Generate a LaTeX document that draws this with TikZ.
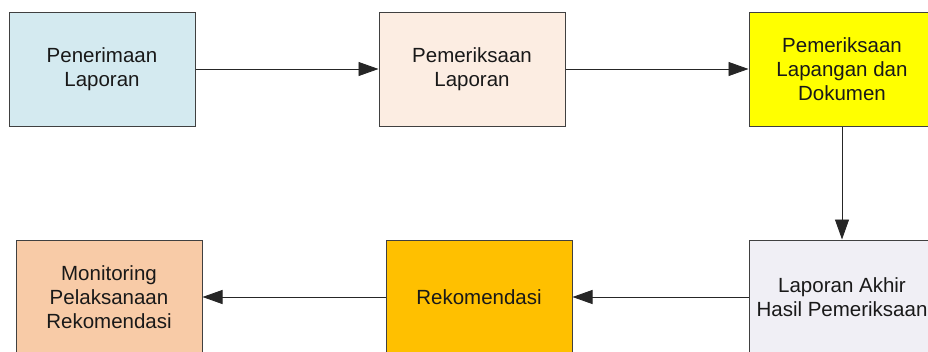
\documentclass[tikz,border=0pt]{standalone}
\usepackage{fontspec}
\setmainfont{Liberation Sans}
\usetikzlibrary{arrows.meta}
\definecolor{bline}{HTML}{404040}
\definecolor{cA}{HTML}{D4EAF0}
\definecolor{cB}{HTML}{FCEDE2}
\definecolor{cC}{HTML}{FFFF00}
\definecolor{cD}{HTML}{F0EFF5}
\definecolor{cE}{HTML}{FFC000}
\definecolor{cF}{HTML}{F8CBA7}
\tikzset{
  procbox/.style={draw=bline, line width=1pt, minimum width=186pt, minimum height=114pt,
    inner sep=0pt, align=center, text=black!90, font=\fontsize{20.5}{24}\selectfont},
  flow/.style={draw=black!85, line width=0.9pt, -{Triangle[length=20pt,width=14pt]}}
}
\begin{document}
\begin{tikzpicture}[x=1pt,y=-1pt]
\useasboundingbox (0,0) rectangle (928,351);
\clip (0,0) rectangle (928,351);
\node[procbox, fill=cA] (a) at (102,69) {Penerimaan\\Laporan};
\node[procbox, fill=cB] (b) at (472,69) {Pemeriksaan\\Laporan};
\node[procbox, fill=cC] (c) at (842,69) {Pemeriksaan\\Lapangan dan\\Dokumen};
\node[procbox, fill=cD] (d) at (842,297) {Laporan Akhir\\Hasil Pemeriksaan};
\node[procbox, fill=cE] (e) at (479,297) {Rekomendasi};
\node[procbox, fill=cF] (f) at (109,297) {Monitoring\\Pelaksanaan\\Rekomendasi};
\draw[flow] (a) -- (b);
\draw[flow] (b) -- (c);
\draw[flow] (c) -- (d);
\draw[flow] (d) -- (e);
\draw[flow] (e) -- (f);
\end{tikzpicture}
\end{document}
